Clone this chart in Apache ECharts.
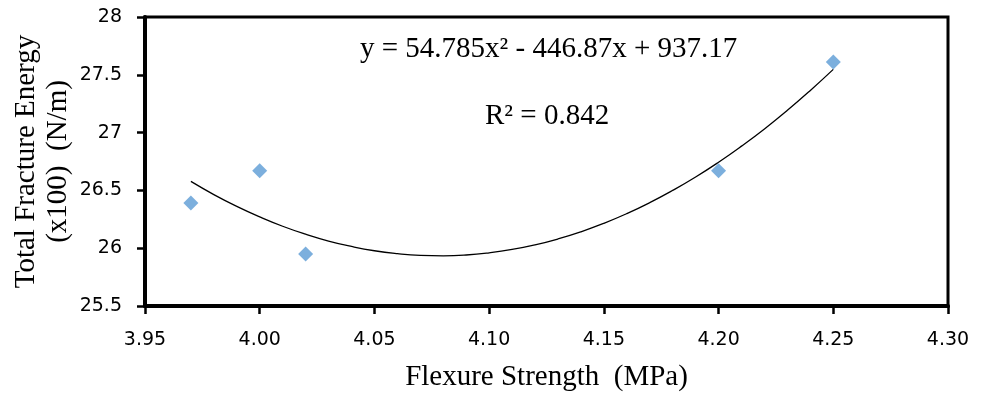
<!DOCTYPE html>
<html>
<head>
<meta charset="utf-8">
<script src="https://cdn.jsdelivr.net/npm/echarts@6/dist/echarts.min.js"></script>
<style>html,body{margin:0;padding:0;background:#fff}#c{width:984px;height:393px}</style>
</head>
<body>
<div id="c"></div>
<script>
// Measured data points
const flexure = [3.97, 4.00, 4.02, 4.20, 4.25];
const energy = [26.39, 26.67, 25.95, 26.67, 27.61];

// Trendline
const trendX = [3.97, 3.98, 3.99, 4.00, 4.01, 4.02, 4.03, 4.04, 4.05, 4.06, 4.07, 4.08, 4.09, 4.10, 4.11, 4.12, 4.13, 4.14, 4.15, 4.16, 4.17, 4.18, 4.19, 4.20, 4.21, 4.22, 4.23, 4.24, 4.25];
const trendY = [26.578, 26.464, 26.362, 26.271, 26.190, 26.121, 26.062, 26.015, 25.978, 25.953, 25.938, 25.934, 25.941, 25.960, 25.989, 26.029, 26.080, 26.142, 26.215, 26.299, 26.394, 26.500, 26.616, 26.744, 26.883, 27.032, 27.193, 27.365, 27.547];

// Tick labels
const xTickLabels = ['3.95', '4.00', '4.05', '4.10', '4.15', '4.20', '4.25', '4.30'];
const yTickLabels = ['25.5', '26', '26.5', '27', '27.5', '28'];

const equationText = 'y = 54.785x² - 446.87x + 937.17';
const r2Text = 'R² = 0.842';
const xTitle = 'Flexure Strength  (MPa)';
const yTitle = 'Total Fracture Energy\n(x100)  (N/m)';

const chart = echarts.init(document.getElementById('c'), null, {renderer: 'canvas'});
const labelFont = {fontFamily: 'DejaVu Sans', fontSize: 19, color: '#000'};
const serif = 'Liberation Serif';

chart.setOption({
  animation: false,
  backgroundColor: '#fff',
  grid: {left: 145, right: 36, top: 17, bottom: 87, show: true, borderColor: '#000', borderWidth: 3, containLabel: false, outerBoundsMode: 'none'},
  xAxis: {
    type: 'value', min: 3.95, max: 4.30, interval: 0.05,
    axisLine: {show: true, onZero: false, lineStyle: {color: '#000', width: 4}},
    axisTick: {show: true, length: 8, lineStyle: {color: '#000', width: 2.5}},
    splitLine: {show: false},
    axisLabel: Object.assign({margin: 25, formatter: (v) => {
      const i = Math.round((v - 3.95) / 0.05);
      return xTickLabels[i] !== undefined ? xTickLabels[i] : '';
    }}, labelFont),
    name: xTitle, nameLocation: 'middle', nameGap: 57, nameMoveOverlap: false,
    nameTextStyle: {fontFamily: serif, fontSize: 29, color: '#000'}
  },
  yAxis: {
    type: 'value', min: 25.5, max: 28, interval: 0.5,
    axisLine: {show: true, onZero: false, lineStyle: {color: '#000', width: 4}},
    axisTick: {show: true, length: 8, lineStyle: {color: '#000', width: 2.5}},
    splitLine: {show: false},
    axisLabel: Object.assign({margin: 23, padding: [4, 0, 0, 0], formatter: (v) => {
      const i = Math.round((v - 25.5) / 0.5);
      return yTickLabels[i] !== undefined ? yTickLabels[i] : '';
    }}, labelFont),
    name: yTitle, nameLocation: 'middle', nameGap: 71, nameRotate: 90, nameMoveOverlap: false,
    nameTextStyle: {fontFamily: serif, fontSize: 29, color: '#000', lineHeight: 32, align: 'center'}
  },
  series: [
    {
      type: 'line', smooth: true, showSymbol: false, symbol: 'none',
      lineStyle: {color: '#000', width: 1.3},
      data: trendX.map((x, i) => [x, trendY[i]]),
      z: 2
    },
    {
      type: 'scatter', symbol: 'diamond', symbolSize: [15, 15],
      itemStyle: {color: '#5B9BD5'},
      data: flexure.map((x, i) => [x, energy[i]]),
      z: 3
    }
  ],
  graphic: [
    {type: 'text', left: 360, top: 35, style: {text: equationText, font: '29px "Liberation Serif"', fill: '#000'}},
    {type: 'text', left: 485, top: 102, style: {text: r2Text, font: '29px "Liberation Serif"', fill: '#000'}}
  ]
});
</script>
</body>
</html>
